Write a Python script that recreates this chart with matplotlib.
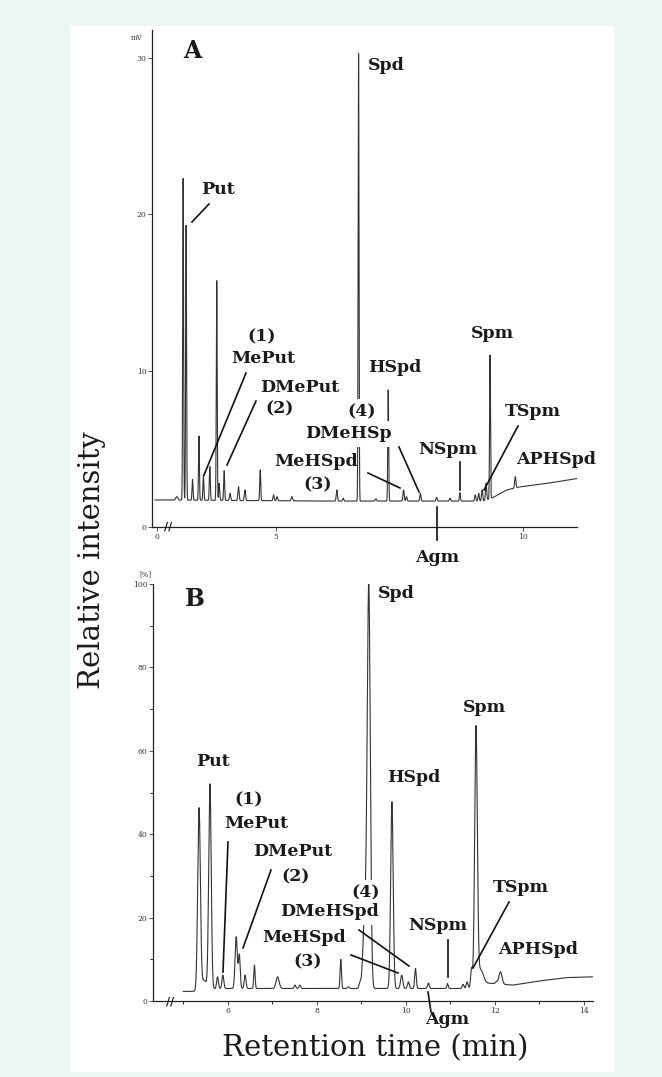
import numpy as np
import matplotlib.pyplot as plt
from matplotlib.lines import Line2D
from matplotlib.patches import Rectangle

W, H = 662, 1077

# ---- panel A: detector signal (mV) vs retention time (min) ----
a_rt = [2.99, 3.12, 3.18, 3.31, 3.44, 3.53, 3.66, 3.80, 3.85, 3.95, 4.07, 4.24, 4.37,
        4.68, 4.95, 5.02, 5.32, 6.23, 6.36, 6.67, 7.02, 7.27, 7.58, 7.64, 7.92, 8.25,
        8.52, 8.72, 9.03, 9.10, 9.17, 9.25, 9.33, 9.84]
a_mv = [1.94, 22.3, 19.3, 3.05, 5.82, 3.33, 3.86, 15.76, 2.8, 3.6, 2.15, 2.58, 2.37,
        3.65, 2.05, 1.94, 1.94, 2.37, 1.84, 30.3, 1.8, 8.77, 2.37, 1.94, 2.15, 1.9,
        1.84, 2.2, 2.05, 2.15, 2.37, 2.8, 11.0, 3.22]
a_sd = [0.02, 0.009, 0.009, 0.01, 0.009, 0.01, 0.01, 0.009, 0.01, 0.01, 0.012, 0.012, 0.012,
        0.01, 0.012, 0.012, 0.015, 0.012, 0.012, 0.009, 0.012, 0.009, 0.012, 0.012, 0.012, 0.012,
        0.012, 0.01, 0.012, 0.012, 0.012, 0.012, 0.009, 0.012]
a_base_rt = [2.55, 6.0, 9.2, 9.4, 9.65, 9.9, 10.5, 11.09]
a_base_mv = [1.73, 1.66, 1.66, 1.9, 2.35, 2.55, 2.8, 3.1]

# ---- panel B: relative intensity (%) vs retention time (min) ----
b_rt = [5.355, 5.47, 5.60, 5.77, 5.89, 6.19, 6.26, 6.39, 6.60, 7.12, 7.51, 7.62, 8.54, 8.71,
        8.97, 9.08, 9.17, 9.69, 9.91, 10.06, 10.22, 10.51, 10.94, 11.29, 11.38, 11.48,
        11.58, 11.68, 12.04, 12.13]
b_pct = [46.2, 5.0, 52.0, 5.8, 6.2, 15.4, 11.0, 6.2, 8.6, 5.8, 3.8, 3.8, 10.0, 3.4,
         4.2, 20.0, 99.0, 47.8, 6.2, 4.6, 7.8, 4.3, 4.2, 4.0, 4.6, 7.8,
         65.2, 7.5, 4.6, 7.0]
b_sd = [0.03, 0.05, 0.028, 0.02, 0.02, 0.025, 0.02, 0.02, 0.015, 0.035, 0.02, 0.02, 0.015, 0.02,
        0.02, 0.04, 0.035, 0.028, 0.025, 0.02, 0.018, 0.02, 0.015, 0.02, 0.02, 0.02,
        0.03, 0.06, 0.02, 0.035]
b_base_rt = [5.0, 5.3, 5.75, 11.4, 11.75, 12.0, 12.4, 13.0, 13.6, 14.2]
b_base_pct = [2.3, 2.3, 3.0, 3.0, 4.3, 4.2, 3.8, 4.8, 5.6, 5.8]


def trace(t, rt, h, sd, brt, blev):
    y = np.interp(t, brt, blev)
    for r, hh, s in zip(rt, h, sd):
        y = y + (hh - np.interp(r, brt, blev)) * np.exp(-0.5 * ((t - r) / s) ** 2)
    return y


def fx(x):
    return x / W


def fy(y):
    return 1 - y / H


fig = plt.figure(figsize=(W / 100, H / 100), dpi=100, facecolor='#edf6f1')
fig.add_artist(Rectangle((fx(70), fy(1072)), fx(614) - fx(70), fy(26) - fy(1072),
                         transform=fig.transFigure, fc='white', ec='none', zorder=-1))

ink = '#1a1a1a'
serif = 'DejaVu Serif'


def style(ax):
    ax.set_facecolor('none')
    for s in ['top', 'right']:
        ax.spines[s].set_visible(False)
    for s in ['left', 'bottom']:
        ax.spines[s].set_linewidth(0.9)
        ax.spines[s].set_color('#222222')
    ax.tick_params(which='major', length=3, width=0.6, pad=1, labelsize=5.5, colors='#333333')
    ax.tick_params(which='minor', length=2, width=0.6)
    for lab in ax.get_xticklabels() + ax.get_yticklabels():
        lab.set_family(serif)


# panel A axes: x 152..577 px, y 30..527 px
axA = fig.add_axes([fx(152), fy(527), fx(577) - fx(152), fy(30) - fy(527)])
tA = np.linspace(2.55, 11.09, 20000)
axA.plot(tA, trace(tA, a_rt, a_mv, a_sd, a_base_rt, a_base_mv), color='#333333', lw=0.8)
axA.set_xlim(2.49, 11.09)
axA.set_ylim(0, 31.8)
axA.set_yticks([0, 10, 20, 30])
axA.set_xticks([2.59, 5, 10])
axA.set_xticklabels(['0', '5', '10'])
style(axA)

# panel B axes: x 153..593 px, y 584..1001 px
axB = fig.add_axes([fx(153), fy(1001), fx(593) - fx(153), fy(584) - fy(1001)])
tB = np.linspace(5.0, 14.2, 20000)
axB.plot(tB, trace(tB, b_rt, b_pct, b_sd, b_base_rt, b_base_pct), color='#333333', lw=0.8)
axB.set_xlim(4.32, 14.21)
axB.set_ylim(0, 100)
axB.set_yticks([0, 20, 40, 60, 80, 100])
axB.set_yticks([10, 30, 50, 70, 90], minor=True)
axB.set_xticks([6, 8, 10, 12, 14])
axB.set_xticks([5, 7, 9, 11, 13], minor=True)
style(axB)


def label(s, x, y, ha='left', mask=False, size=12.5):
    box = dict(fc='white', ec='none', pad=3.5) if mask else None
    fig.text(fx(x), fy(y), s, ha=ha, va='center', fontsize=size, family=serif,
             weight='bold', color=ink, zorder=5, bbox=box)


def leader(x0, y0, x1, y1):
    fig.add_artist(Line2D([fx(x0), fx(x1)], [fy(y0), fy(y1)], color='#111111', lw=1.2, zorder=4))


# small unit labels and axis breaks
fig.text(fx(137), fy(38), 'mV', ha='center', va='center', fontsize=5, family=serif, color='#333333')
fig.text(fx(145), fy(574), '[%]', ha='center', va='center', fontsize=5, family=serif, color='#333333')
fig.text(fx(168), fy(526), '//', ha='center', va='center', fontsize=8, family=serif, weight='bold', color=ink)
fig.text(fx(170), fy(1001), '//', ha='center', va='center', fontsize=8, family=serif, weight='bold', color=ink)

# panel A labels
label('A', 192, 51, ha='center', size=17)
label('Spd', 368, 66)
label('Put', 201, 190)
leader(209, 204, 192, 222)
label('(1)', 262, 337, ha='center')
label('MePut', 263, 359, ha='center')
leader(246, 373, 204, 475)
label('DMePut', 260, 387)
leader(256, 401, 227, 465)
label('(2)', 280, 409, ha='center')
label('(4)', 362, 412, ha='center', mask=True)
label('HSpd', 368, 368)
label('DMeHSp', 305, 434, mask=True)
label('MeHSpd', 274, 462)
leader(368, 473, 400, 488)
label('(3)', 318, 485, ha='center')
leader(399, 447, 419, 492)
label('NSpm', 418, 450)
leader(460, 462, 460, 490)
label('Spm', 471, 333)
label('TSpm', 505, 412)
leader(518, 426, 484, 490)
label('APHSpd', 516, 460)
label('Agm', 437, 557, ha='center')
leader(437, 507, 437, 540)

# panel B labels
label('B', 195, 599, ha='center', size=17)
label('Spd', 378, 593)
label('Put', 196, 762)
label('(1)', 249, 800, ha='center')
label('MePut', 256, 824, ha='center')
leader(228, 842, 223, 972)
label('DMePut', 253, 852)
leader(271, 870, 243, 948)
label('(2)', 296, 877, ha='center')
label('(4)', 366, 893, ha='center', mask=True)
label('DMeHSpd', 280, 912, mask=True)
label('MeHSpd', 262, 938)
label('(3)', 308, 962, ha='center')
leader(351, 955, 398, 973)
leader(359, 930, 409, 966)
label('HSpd', 387, 778)
label('NSpm', 408, 925)
leader(448, 940, 448, 977)
label('Spm', 463, 707)
label('TSpm', 493, 887)
leader(509, 902, 473, 968)
label('APHSpd', 498, 949)
label('Agm', 447, 1019, ha='center')
leader(428, 992, 431, 1012)

# axis titles
fig.text(fx(92), fy(560), 'Relative intensity', rotation=90, ha='center', va='center',
         fontsize=21, family=serif, color=ink)
fig.text(fx(375), fy(1048), 'Retention time (min)', ha='center', va='center',
         fontsize=21, family=serif, color=ink)

fig.savefig('out.png', dpi=100, facecolor=fig.get_facecolor())
